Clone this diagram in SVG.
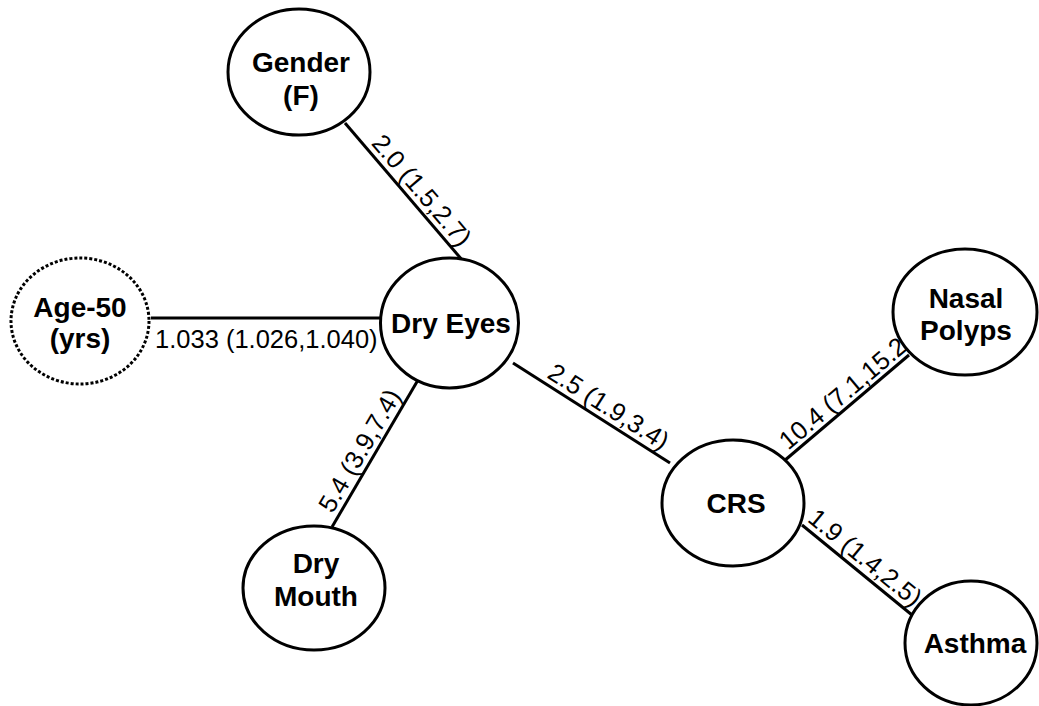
<svg xmlns="http://www.w3.org/2000/svg" width="1039" height="706" viewBox="0 0 1039 706">
<style>
.node{fill:#fff;stroke:#000;stroke-width:3}
.dotted{stroke-dasharray:3 2}
.nl{font-family:"Liberation Sans",Arial,sans-serif;font-weight:bold;font-size:28px;text-anchor:middle;fill:#000}
.el{font-family:"Liberation Sans",Arial,sans-serif;font-size:25.5px;fill:#000}
.edge{stroke:#000;stroke-width:3;fill:none}
</style>
<rect width="1039" height="706" fill="#fff"/>
<g id="connectors">
<line class="edge" x1="345" y1="123" x2="463" y2="261"/>
<line class="edge" x1="151" y1="318" x2="381" y2="318"/>
<line class="edge" x1="332" y1="527" x2="418" y2="380"/>
<line class="edge" x1="513" y1="363" x2="670" y2="463"/>
<line class="edge" x1="784" y1="461" x2="909" y2="355"/>
<line class="edge" x1="802" y1="525" x2="912" y2="615"/>
<text class="el" text-anchor="middle" transform="translate(410.6,199.8) rotate(49.5)" y="-6">2.0 (1.5,2.7)</text>
<text class="el" x="155" y="348">1.033 (1.026,1.040)</text>
<text class="el" text-anchor="middle" transform="translate(372.4,458) rotate(-59.7)" y="-6">5.4 (3.9,7.4)</text>
<text class="el" text-anchor="middle" transform="translate(600.8,419) rotate(32.5)" y="-6">2.5 (1.9,3.4)</text>
<text class="el" text-anchor="middle" transform="translate(855.5,401.8) rotate(-40.3)" y="-6">10.4 (7.1,15.2)</text>
<text class="el" text-anchor="middle" transform="translate(856,569) rotate(39.3)" y="-6">1.9 (1.4,2.5)</text>
</g>
<g id="gender">
<ellipse class="node" cx="299" cy="72" rx="71" ry="63"/>
<text class="nl" x="301" y="72">Gender</text>
<text class="nl" x="301" y="105">(F)</text>
</g>
<g id="age">
<ellipse class="node dotted" cx="80" cy="321" rx="69" ry="63"/>
<text class="nl" x="80" y="317">Age-50</text>
<text class="nl" x="80" y="348">(yrs)</text>
</g>
<g id="dryeyes">
<ellipse class="node" cx="449.5" cy="323" rx="69" ry="65"/>
<text class="nl" x="451" y="333">Dry Eyes</text>
</g>
<g id="drymouth">
<ellipse class="node" cx="314" cy="588" rx="71" ry="62"/>
<text class="nl" x="316" y="573">Dry</text>
<text class="nl" x="316" y="606">Mouth</text>
</g>
<g id="crs">
<ellipse class="node" cx="733" cy="503" rx="71" ry="63"/>
<text class="nl" x="736" y="513">CRS</text>
</g>
<g id="nasalpolyps">
<ellipse class="node" cx="965" cy="312" rx="72" ry="63"/>
<text class="nl" x="966" y="308">Nasal</text>
<text class="nl" x="966" y="340">Polyps</text>
</g>
<g id="asthma">
<ellipse class="node" cx="971" cy="643" rx="66" ry="62"/>
<text class="nl" x="975" y="653">Asthma</text>
</g>
</svg>
